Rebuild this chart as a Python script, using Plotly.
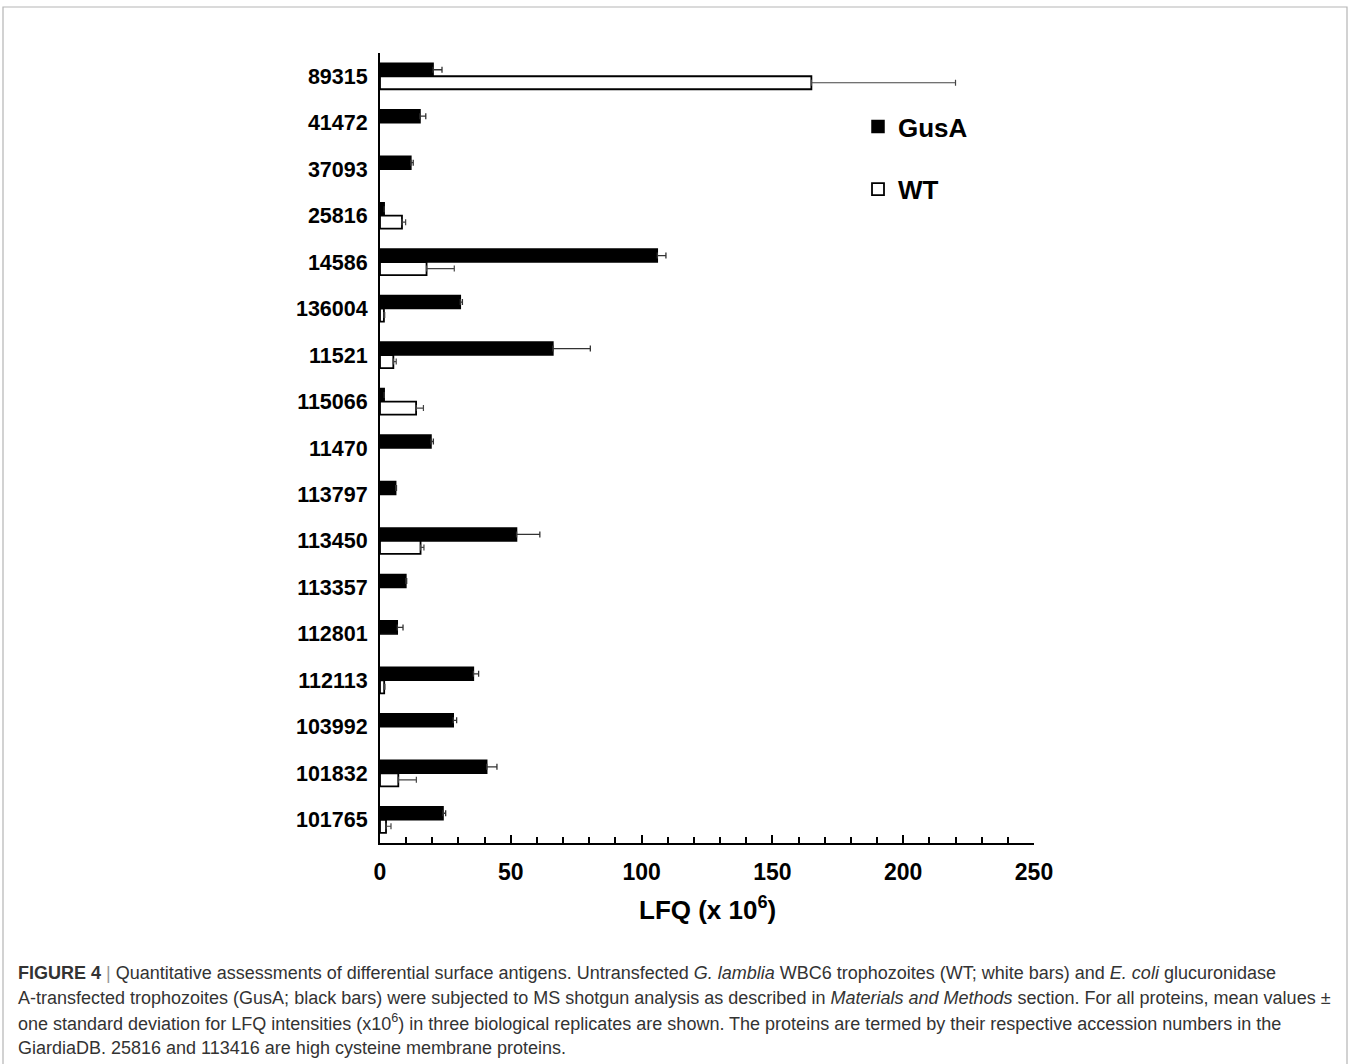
import plotly.graph_objects as go

# ---------------- data ----------------
proteins = ["89315", "41472", "37093", "25816", "14586", "136004", "11521", "115066",
            "11470", "113797", "113450", "113357", "112801", "112113", "103992",
            "101832", "101765"]
gusa = [20.3, 15.3, 11.8, 1.6, 106.0, 30.7, 66.1, 1.6, 19.5, 6.0, 52.2, 9.9, 6.6,
        35.7, 28.0, 40.8, 24.1]
gusa_sd = [3.4, 2.2, 0.9, 0.0, 3.3, 0.8, 14.3, 0.0, 0.9, 0.3, 8.9, 0.3, 2.2,
           2.0, 1.3, 3.9, 1.0]
wt = [164.9, None, None, 8.4, 17.8, 1.5, 5.1, 13.8, None, None, 15.5, None, None,
      1.6, None, 7.0, 2.3]
wt_sd = [55.1, 0, 0, 1.4, 10.6, 0.3, 1.1, 2.8, 0, 0, 1.3, 0, 0, 0.3, 0, 6.9, 1.9]
x_ticks = [0, 50, 100, 150, 200, 250]

caption_lines = [
    "<b>FIGURE 4</b> <span style='color:#999'>|</span> Quantitative assessments of differential surface antigens. "
    "Untransfected <i>G. lamblia</i> WBC6 trophozoites (WT; white bars) and <i>E. coli</i> glucuronidase",
    "A-transfected trophozoites (GusA; black bars) were subjected to MS shotgun analysis as described in "
    "<i>Materials and Methods</i> section. For all proteins, mean values ±",
    "one standard deviation for LFQ intensities (x10<sup>6</sup>) in three biological replicates are shown. "
    "The proteins are termed by their respective accession numbers in the",
    "GiardiaDB. 25816 and 113416 are high cysteine membrane proteins.",
]

# ---------------- layout geometry ----------------
W, H = 1351, 1064
ML, MR, MT, MB = 380, 317, 53, 221
PW, PH = W - ML - MR, H - MT - MB


def px(x):
    return (x - ML) / PW


def py(y):
    return (H - MB - y) / PH


FONT = "Liberation Sans, Arial, sans-serif"

fig = go.Figure()
fig.add_trace(go.Bar(
    y=proteins, x=gusa, orientation="h", name="GusA", legendgroup="g1",
    marker=dict(color="black", line=dict(color="black", width=1.5)),
    error_x=dict(type="data", array=gusa_sd, arrayminus=[0] * len(gusa_sd),
                 symmetric=False, color="#333", thickness=1.3, width=3),
))
fig.add_trace(go.Bar(
    y=proteins, x=wt, orientation="h", name="WT", legendgroup="g2",
    marker=dict(color="white", line=dict(color="black", width=1.8)),
    error_x=dict(type="data", array=wt_sd, arrayminus=[0] * len(wt_sd),
                 symmetric=False, color="#444", thickness=1.2, width=3),
))

fig.update_layout(
    width=W, height=H,
    margin=dict(l=ML, r=MR, t=MT, b=MB, pad=0),
    paper_bgcolor="white", plot_bgcolor="white",
    barmode="group", bargap=0.44, bargroupgap=0,
    font=dict(family=FONT, color="black"),
    showlegend=True,
    legend=dict(x=px(858), y=py(103), xanchor="left", yanchor="top",
                font=dict(size=26, family=FONT, color="black", weight="bold"),
                tracegroupgap=26, bgcolor="rgba(0,0,0,0)", itemwidth=30),
    xaxis=dict(range=[0, 250], tickvals=x_ticks, ticks="inside", ticklen=8,
               tickwidth=1.5, tickcolor="black", showline=True, linecolor="black",
               linewidth=2, showgrid=False, zeroline=False,
               tickfont=dict(size=23, family=FONT, color="black", weight="bold"),
               ticklabelstandoff=7,
               minor=dict(dtick=10, ticks="inside", ticklen=6, tickwidth=1.5,
                          tickcolor="black", showgrid=False)),
    yaxis=dict(categoryorder="array", categoryarray=proteins, autorange="reversed",
               showline=True, linecolor="black", linewidth=2, ticks="",
               showgrid=False, zeroline=False, ticklabelstandoff=6,
               tickfont=dict(size=21.5, family=FONT, color="black", weight="bold")),
)

# axis title as annotation
fig.add_annotation(x=0.5, y=py(908), xref="paper", yref="paper",
                   text="<b>LFQ (x 10<sup>6</sup>)</b>", showarrow=False,
                   xanchor="center", yanchor="middle",
                   font=dict(size=26, family=FONT, color="black"))

# caption lines
cap_y = [973, 998, 1023, 1048]
for line, yy in zip(caption_lines, cap_y):
    fig.add_annotation(x=px(16), y=py(yy), xref="paper", yref="paper", text=line,
                       showarrow=False, xanchor="left", yanchor="middle", align="left",
                       font=dict(size=18, family=FONT, color="#333"))

# outer frame
fig.add_shape(type="rect", xref="paper", yref="paper",
              x0=px(3), x1=px(1347), y0=py(1075), y1=py(7),
              line=dict(color="#b5b5b5", width=1.2), fillcolor="rgba(0,0,0,0)", layer="below")

fig.write_html("out.html", config={"displayModeBar": False},
               post_script="document.body.style.margin='0';document.body.style.overflow='hidden';")
